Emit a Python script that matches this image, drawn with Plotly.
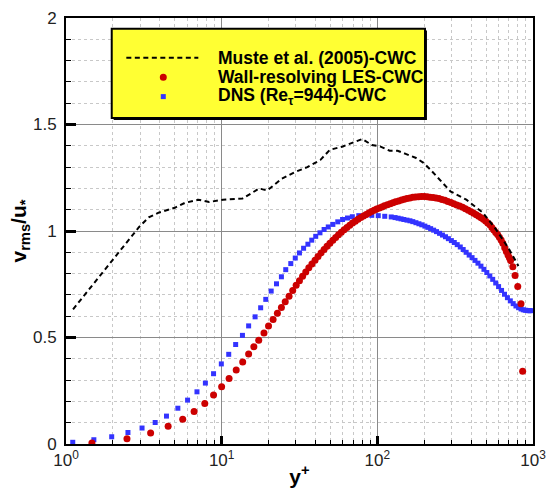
import plotly.graph_objects as go

# ---------------- data ----------------
muste_x = [1.11, 2.94, 3.4, 3.93, 5.0, 5.8, 7.1, 8.3, 10.2, 13.6, 15.5, 17.4, 19.6, 24.3, 29.4,
           35.5, 43.0, 49.5, 60.0, 71.0, 80.0, 92.0, 104, 120, 135, 152, 176, 198, 218,
           295, 373, 476, 575, 695, 806]
muste_y = [0.632, 1.018, 1.064, 1.086, 1.109, 1.132, 1.147, 1.136, 1.147, 1.152, 1.177, 1.200,
           1.190, 1.245, 1.276, 1.300, 1.333, 1.381, 1.397, 1.416, 1.432, 1.404, 1.397, 1.377,
           1.377, 1.362, 1.344, 1.320, 1.290, 1.186, 1.147, 1.086, 1.010, 0.920, 0.836]

les_x = [1.467, 2.464, 3.496, 4.53, 5.62, 6.65, 7.79, 8.87, 9.995, 11.16, 12.4, 13.65,
         14.9, 16.1, 17.3, 18.7, 20.0, 21.4, 22.8, 24.2, 25.6, 27.1, 28.6, 30.1, 31.6, 33.1,
         34.7, 36.3, 38.0, 39.8, 41.6, 43.5, 45.5, 47.5, 49.6, 51.8, 54.0, 56.3, 58.7, 61.2,
         63.8, 66.5, 69.3, 72.2, 75.2, 78.3, 81.5, 84.8, 88.2, 91.7, 95.3, 99.0, 103, 107,
         111, 116, 121, 126, 131, 137, 143, 149, 155, 162, 169, 176, 184, 192, 200, 209, 218,
         228, 238, 249, 260, 272, 284, 297, 310, 324, 338, 353, 368, 384, 400, 416, 432, 448,
         464, 480, 496, 512, 528, 544, 560, 576, 592, 608, 624, 640, 658, 674, 691, 705, 718,
         742, 767, 798, 837, 858]
les_y = [0.005, 0.025, 0.052, 0.083, 0.116, 0.1525, 0.190, 0.230, 0.269, 0.307, 0.347, 0.385,
         0.423, 0.456, 0.487, 0.521, 0.554, 0.585, 0.614, 0.641, 0.668, 0.694, 0.721, 0.745,
         0.767, 0.788, 0.808, 0.827, 0.845, 0.863, 0.880, 0.897, 0.913, 0.928, 0.943, 0.957,
         0.970, 0.982, 0.994, 1.006, 1.017, 1.027, 1.037, 1.046, 1.055, 1.063, 1.071, 1.078,
         1.085, 1.091, 1.097, 1.103, 1.108, 1.113, 1.118, 1.123, 1.128, 1.133, 1.137, 1.141,
         1.145, 1.149, 1.152, 1.155, 1.158, 1.160, 1.161, 1.162, 1.162, 1.161, 1.159, 1.157,
         1.155, 1.152, 1.148, 1.144, 1.139, 1.134, 1.128, 1.122, 1.117, 1.111, 1.104, 1.097,
         1.090, 1.083, 1.076, 1.069, 1.062, 1.055, 1.047, 1.038, 1.029, 1.017, 1.005, 0.993,
         0.983, 0.971, 0.958, 0.943, 0.921, 0.904, 0.887, 0.874, 0.861, 0.832, 0.791, 0.740,
         0.658, 0.342]

dns_x = [1.105, 1.51, 1.966, 2.50, 3.08, 3.74, 4.42, 5.23, 6.04, 6.94, 7.86, 8.87, 9.95, 11.1,
         12.3, 13.6, 14.9, 16.4, 17.8, 19.2, 20.8, 22.5, 24.2, 25.8, 27.8, 29.7, 31.6, 33.6,
         35.8, 37.9, 40.2, 42.8, 45.5, 48.4, 51.8, 55.7, 59.8, 64.3, 69.1, 76.0, 83.7, 92.1,
         101.4, 111.6, 122.8, 130, 136, 142, 148, 155, 162, 169, 177, 185, 193, 202, 211, 220,
         230, 240, 251, 262, 274, 286, 299, 312, 326, 341, 356, 372, 389, 406, 424, 443, 463,
         484, 505, 528, 551, 576, 601, 628, 656, 685, 715, 746, 777, 808, 838, 866, 892, 915,
         935, 952, 966]
dns_y = [0.008, 0.020, 0.034, 0.054, 0.075, 0.101, 0.131, 0.168, 0.206, 0.245, 0.286, 0.330,
         0.376, 0.421, 0.467, 0.510, 0.5545, 0.597, 0.6395, 0.679, 0.718, 0.752, 0.785, 0.8185,
         0.847, 0.873, 0.897, 0.919, 0.938, 0.957, 0.975, 0.9915, 1.007, 1.019, 1.031, 1.043,
         1.054, 1.061, 1.067, 1.072, 1.0735, 1.0735, 1.072, 1.069, 1.066, 1.063, 1.060, 1.057,
         1.054, 1.051, 1.048, 1.044, 1.039, 1.034, 1.029, 1.023, 1.017, 1.011, 1.004, 0.997,
         0.989, 0.981, 0.973, 0.964, 0.955, 0.946, 0.936, 0.925, 0.913, 0.900, 0.887, 0.875,
         0.862, 0.849, 0.835, 0.820, 0.805, 0.789, 0.773, 0.756, 0.739, 0.721, 0.703, 0.687,
         0.672, 0.659, 0.648, 0.640, 0.634, 0.630, 0.628, 0.627, 0.626, 0.626, 0.626]

series_names = ["Muste et al. (2005)-CWC", "Wall-resolving LES-CWC",
                "DNS (Re<sub>\u03c4</sub>=944)-CWC"]
x_tickvals = [1, 10, 100, 1000]
x_ticktext = ["10<sup>0</sup>", "10<sup>1</sup>", "10<sup>2</sup>", "10<sup>3</sup>"]
x_minor = [m * 10 ** e for e in range(3) for m in range(2, 10)]

RED = "#CC0000"
BLUE = "#3333FF"
FONT = "Liberation Sans, Arial, sans-serif"

W, H = 555, 494
ML, MR, MT, MB = 66, 9, 9, 46
PW, PH = W - ML - MR, H - MT - MB


def px(x):
    return (x - ML) / PW


def py(y):
    return (H - MB - y) / PH


fig = go.Figure()
fig.add_trace(go.Scatter(x=dns_x, y=dns_y, mode="markers", name=series_names[2],
                         marker=dict(symbol="square", size=5, color=BLUE, line=dict(width=0))))
fig.add_trace(go.Scatter(x=les_x, y=les_y, mode="markers", name=series_names[1],
                         marker=dict(symbol="circle", size=7, color=RED, line=dict(width=0))))
fig.add_trace(go.Scatter(x=muste_x, y=muste_y, mode="lines", name=series_names[0],
                         line=dict(color="black", width=2, dash="5px,3.5px")))

# ---- legend box (drawn by hand to match the original layout) ----
lx0, lx1, ly0, ly1 = 113, 435, 20, 112
shapes = [
    dict(type="rect", xref="paper", yref="paper", x0=px(lx0 + 2), x1=px(lx1 + 2),
         y0=py(ly1 + 2), y1=py(ly0 + 2), fillcolor="black", line=dict(width=0), layer="above"),
    dict(type="rect", xref="paper", yref="paper", x0=px(lx0), x1=px(lx1), y0=py(ly1),
         y1=py(ly0), fillcolor="#FFFF33", line=dict(color="black", width=2), layer="above"),
    dict(type="line", xref="paper", yref="paper", x0=px(128), x1=px(202), y0=py(50), y1=py(50),
         line=dict(color="black", width=2, dash="5px,3.5px"), layer="above"),
    dict(type="circle", xref="paper", yref="paper", xsizemode="pixel", ysizemode="pixel",
         xanchor=px(166), yanchor=py(70), x0=-3.5, x1=3.5, y0=-3.5, y1=3.5,
         fillcolor=RED, line=dict(width=0), layer="above"),
    dict(type="rect", xref="paper", yref="paper", xsizemode="pixel", ysizemode="pixel",
         xanchor=px(166), yanchor=py(90), x0=-2.5, x1=2.5, y0=-2.5, y1=2.5,
         fillcolor=BLUE, line=dict(width=0), layer="above"),
]
annotations = []
for name, yy in zip(series_names, [50, 70, 90]):
    annotations.append(dict(text="<b>" + name + "</b>", xref="paper", yref="paper",
                            x=px(220), y=py(yy), xanchor="left", yanchor="middle",
                            showarrow=False, font=dict(family=FONT, size=17.5, color="black")))

fig.update_layout(
    width=W, height=H, margin=dict(l=ML, r=MR, t=MT, b=MB),
    paper_bgcolor="white", plot_bgcolor="white", showlegend=False,
    font=dict(family=FONT, size=17, color="#222222"),
    shapes=shapes, annotations=annotations,
)
fig.update_xaxes(
    type="log", range=[0, 3], tickmode="array", tickvals=x_tickvals, ticktext=x_ticktext,
    ticks="inside", ticklen=8, tickwidth=3, tickcolor="black",
    showline=True, linecolor="black", linewidth=2, mirror=True,
    showgrid=True, gridcolor="#8a8a8a", gridwidth=1, zeroline=False,
    ticklabeloverflow="allow", tickfont=dict(size=17, color="#222222"),
    minor=dict(tickvals=x_minor, ticks="inside", ticklen=4, tickwidth=1, tickcolor="black",
               showgrid=True, gridcolor="#c8c8c8", griddash="dot", gridwidth=1),
    title=dict(text="<b>y<sup>+</sup></b>", font=dict(size=21, color="black"), standoff=0),
)
fig.update_yaxes(
    range=[0, 2], dtick=0.5, tick0=0,
    ticks="inside", ticklen=10, tickwidth=3, tickcolor="black",
    showline=True, linecolor="black", linewidth=2, mirror=True,
    showgrid=True, gridcolor="#8a8a8a", gridwidth=1, zeroline=False,
    tickfont=dict(size=17, color="#222222"), ticklabelstandoff=4,
    minor=dict(dtick=0.1, ticks="inside", ticklen=5, tickwidth=1, tickcolor="black",
               showgrid=True, gridcolor="#c8c8c8", griddash="dot", gridwidth=1),
    title=dict(text="<b>v<sub>rms</sub>/u<sub>*</sub></b>", font=dict(size=21, color="black"),
               standoff=1),
)

fig.write_html("out.html")
